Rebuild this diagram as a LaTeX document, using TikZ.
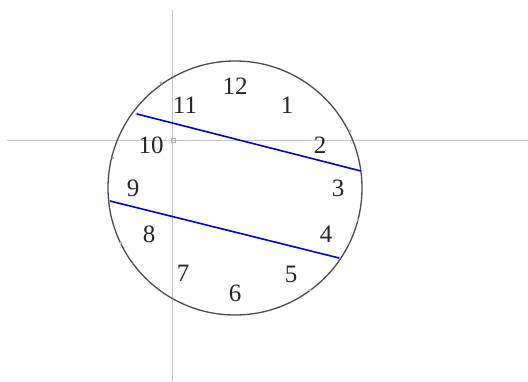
\documentclass[tikz,border=0pt]{standalone}
\usepackage{fontspec}
\setmainfont{Liberation Serif}
\begin{document}
\begin{tikzpicture}[x=1pt,y=-1pt,
  axis/.style={draw=black!22,line width=1pt},
  rim/.style={draw=black!70,line width=1.3pt},
  chord/.style={draw=blue!90!black,line width=1.6pt},
  num/.style={font=\fontsize{25}{28}\selectfont,text=black!85,inner sep=0pt},
  tick/.style={fill=black!30,draw=none}]
\useasboundingbox (0,0) rectangle (528,381);
% axes
\coordinate (xl) at (7,140); \coordinate (xr) at (528,140);
\coordinate (yt) at (172,10); \coordinate (yb) at (172,381);
\draw[axis] (xl) -- (xr);
\draw[axis] (yt) -- (yb);
\node[draw=black!30,line width=0.5pt,minimum size=4pt,inner sep=0pt] (o) at (173,140) {};
% clock face
\coordinate (c) at (235,188);
\draw[rim] (c) circle (127);
% tick dots
\foreach \p [count=\i] in {(161,83),(113,158),(350,131),(121,243),(358,220),(310,290),(110,201),(361,171),(339,258),(137,114)}
  \fill[tick] \p circle (1.6);
% numbers
\node[num] (n12) at (235,86) {12};
\node[num] (n11) at (185,105) {11};
\node[num] (n10) at (151,145) {10};
\node[num] (n1) at (287,105) {1};
\node[num] (n2) at (320,145) {2};
\node[num] (n3) at (338,188) {3};
\node[num] (n4) at (326,234) {4};
\node[num] (n5) at (291,274) {5};
\node[num] (n6) at (235,293) {6};
\node[num] (n7) at (183,273) {7};
\node[num] (n8) at (149,234) {8};
\node[num] (n9) at (133,188) {9};
% chords
\coordinate (a1) at (137,114); \coordinate (b1) at (361,171);
\coordinate (a2) at (110,201); \coordinate (b2) at (339,258);
\draw[chord] (a1) -- (b1);
\draw[chord] (a2) -- (b2);
\end{tikzpicture}
\end{document}
